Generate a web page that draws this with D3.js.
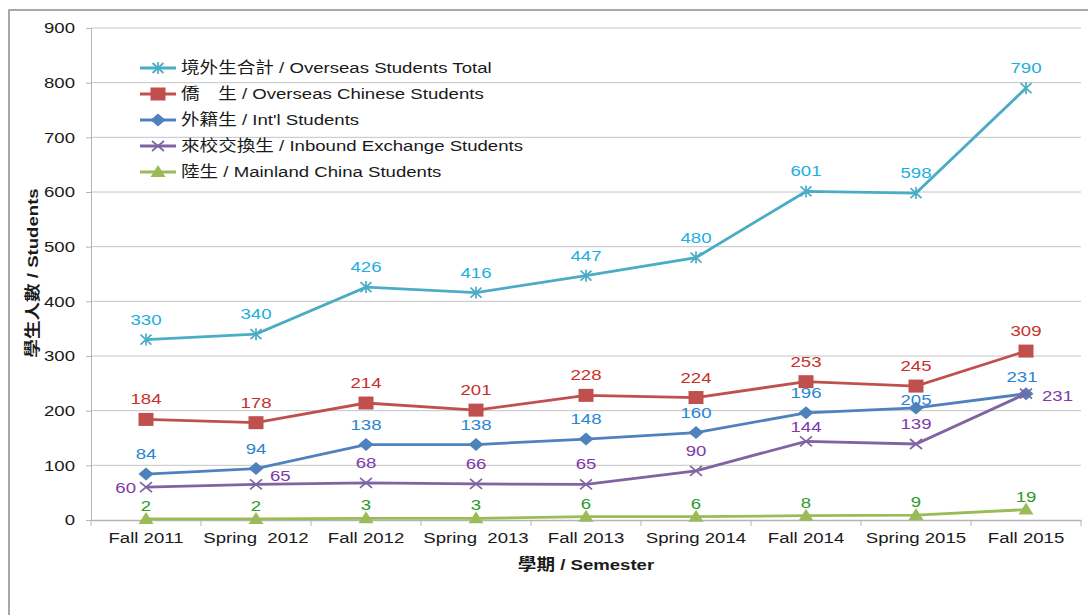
<!DOCTYPE html>
<html>
<head>
<meta charset="UTF-8">
<title>overseas students</title>
<style>
  body { margin: 0; background: #fff; }
  text { font-family: "Liberation Sans", Arial, "Noto Sans CJK TC", sans-serif; white-space: pre; }
</style>
</head>
<body>
<script src="https://cdn.jsdelivr.net/npm/d3@7"></script>
<script type="text/javascript">
// data
var semesters = ["Fall 2011", "Spring  2012", "Fall 2012", "Spring  2013", "Fall 2013",
                 "Spring 2014", "Fall 2014", "Spring 2015", "Fall 2015"];
var totalStudents    = [330, 340, 426, 416, 447, 480, 601, 598, 790];
var overseasChinese  = [184, 178, 214, 201, 228, 224, 253, 245, 309];
var intlStudents     = [84, 94, 138, 138, 148, 160, 196, 205, 231];
var exchangeStudents = [60, 65, 68, 66, 65, 90, 144, 139, 231];
var mainlandStudents = [2, 2, 3, 3, 6, 6, 8, 9, 19];
var yTicks = [0, 100, 200, 300, 400, 500, 600, 700, 800, 900];

var series = [
    {name: "境外生合計 / Overseas Students Total", values: totalStudents,
     line: "#4bacc6", label: "#1eaee0", marker: "asterisk"},
    {name: "僑　生 / Overseas Chinese Students", values: overseasChinese,
     line: "#c0504d", label: "#c8302c", marker: "square"},
    {name: "外籍生 / Int'l Students", values: intlStudents,
     line: "#4f81bd", label: "#2a85d0", marker: "diamond"},
    {name: "來校交換生 / Inbound Exchange Students", values: exchangeStudents,
     line: "#8064a2", label: "#7d3aa8", marker: "cross"},
    {name: "陸生 / Mainland China Students", values: mainlandStudents,
     line: "#9bbb59", label: "#2b9a2b", marker: "triangle"}
];

var width = 1088, height = 615,
    plotLeft = 91, plotRight = 1081, plotTop = 28, plotBottom = 520,
    stretch = 1.2;

var x = d3.scaleBand().domain(d3.range(semesters.length)).range([plotLeft, plotRight]).padding(0),
    y = d3.scaleLinear().domain([0, 900]).range([plotBottom, plotTop]);

var svg = d3.select("body").append("svg")
    .attr("width", width)
    .attr("height", height);

// outer frame
svg.append("rect")
    .attr("x", 9).attr("y", 10)
    .attr("width", 1090).attr("height", 620)
    .attr("fill", "none")
    .attr("stroke", "#8c8c8c")
    .attr("stroke-width", 1.5);

// horizontally stretched text, like the original picture
function stext(g, px, py, str){
    return g.append("text")
        .attr("transform", "translate(" + px + "," + py + ") scale(" + stretch + ",1)")
        .text(str);
}

// gridlines
svg.append("g").selectAll("line")
    .data(yTicks.slice(1))
  .enter().append("line")
    .attr("x1", plotLeft).attr("x2", plotRight)
    .attr("y1", function(d){ return y(d); })
    .attr("y2", function(d){ return y(d); })
    .attr("stroke", "#c4c4c4")
    .attr("stroke-width", 1);

// y axis
var yAxis = d3.axisLeft(y).tickValues(yTicks).tickSize(5).tickSizeOuter(0);
var gy = svg.append("g")
    .attr("transform", "translate(" + plotLeft + ",0)")
    .call(yAxis);
gy.select(".domain").attr("stroke", "#b4b4b4");
gy.selectAll(".tick line").attr("stroke", "#b4b4b4");
gy.selectAll(".tick text")
    .attr("x", -16 / stretch)
    .attr("transform", "scale(" + stretch + ",1)")
    .attr("font-size", 15.5)
    .attr("fill", "#1a1a1a");

// x axis, ticks sit on the band edges
var xAxis = d3.axisBottom(x).tickSize(0).tickSizeOuter(0)
    .tickFormat(function(i){ return semesters[i]; });
var gx = svg.append("g")
    .attr("transform", "translate(0," + plotBottom + ")")
    .call(xAxis);
gx.select(".domain").attr("stroke", "#b4b4b4").attr("stroke-width", 1.5);
gx.selectAll(".tick text")
    .attr("y", 12)
    .attr("font-size", 15.5)
    .attr("fill", "#1a1a1a")
    .attr("transform", "scale(" + stretch + ",1)");
gx.append("g").selectAll("line")
    .data(d3.range(semesters.length + 1))
  .enter().append("line")
    .attr("x1", function(i){ return plotLeft + i * x.step(); })
    .attr("x2", function(i){ return plotLeft + i * x.step(); })
    .attr("y1", 0).attr("y2", 6)
    .attr("stroke", "#b4b4b4");

// axis titles
stext(svg, (plotLeft + plotRight) / 2, 570, "學期 / Semester")
    .attr("text-anchor", "middle")
    .attr("font-size", 15.5)
    .attr("font-weight", "bold")
    .attr("fill", "#1a1a1a");

svg.append("text")
    .attr("transform", "translate(38,273) rotate(-90) scale(" + stretch + ",1)")
    .attr("text-anchor", "middle")
    .attr("font-size", 15.5)
    .attr("font-weight", "bold")
    .attr("fill", "#1a1a1a")
    .text("學生人數 / Students");

// markers
function drawMarker(g, type, color){
    if (type === "asterisk") {
        g.append("path").attr("d", "M-5.5,-5L5.5,5M-5.5,5L5.5,-5M0,-6L0,6")
            .attr("stroke", color).attr("stroke-width", 1.7).attr("fill", "none");
    } else if (type === "cross") {
        g.append("path").attr("d", "M-6,-5L6,5M-6,5L6,-5")
            .attr("stroke", color).attr("stroke-width", 1.7).attr("fill", "none");
    } else if (type === "square") {
        g.append("rect").attr("x", -7.5).attr("y", -6.5).attr("width", 15).attr("height", 13)
            .attr("fill", color);
    } else if (type === "diamond") {
        g.append("path").attr("d", "M0,-6.5L7.5,0L0,6.5L-7.5,0Z").attr("fill", color);
    } else if (type === "triangle") {
        g.append("path").attr("d", "M0,-7L7.5,5L-7.5,5Z").attr("fill", color);
    }
}

var line = d3.line()
    .x(function(d, i){ return x(i) + x.bandwidth() / 2; })
    .y(function(d){ return y(d); });

// label placement tweaks (series index, point index)
function labelPos(s, i, px, py){
    if (s === 3 && i === 0) return {x: px - 10, y: py + 1, anchor: "end"};
    if (s === 3 && i === 1) return {x: px + 14, y: py - 8, anchor: "start"};
    if (s === 3 && i === 8) return {x: px + 16, y: py + 2, anchor: "start"};
    if (s === 3 && i === 6) return {x: px, y: py - 14, anchor: "middle"};
    if (s === 2 && i === 7) return {x: px, y: py - 8, anchor: "middle"};
    if (s === 2 && i === 8) return {x: px - 4, y: py - 17, anchor: "middle"};
    if (s === 4) return {x: px, y: py - 13, anchor: "middle"};
    return {x: px, y: py - 20, anchor: "middle"};
}

series.forEach(function(sr, s){
    var g = svg.append("g");
    g.append("path")
        .datum(sr.values)
        .attr("d", line)
        .attr("fill", "none")
        .attr("stroke", sr.line)
        .attr("stroke-width", 2.8);

    g.selectAll("g.mk")
        .data(sr.values)
      .enter().append("g")
        .attr("class", "mk")
        .attr("transform", function(d, i){
            return "translate(" + (x(i) + x.bandwidth() / 2) + "," + y(d) + ")";
        })
        .each(function(){ drawMarker(d3.select(this), sr.marker, sr.line); });
});

// data labels on top
series.forEach(function(sr, s){
    var g = svg.append("g");
    sr.values.forEach(function(d, i){
        var p = labelPos(s, i, x(i) + x.bandwidth() / 2, y(d));
        stext(g, p.x, p.y, d)
            .attr("text-anchor", p.anchor)
            .attr("dominant-baseline", "central")
            .attr("font-size", 15.5)
            .attr("fill", sr.label);
    });
});

// legend
var legend = svg.append("g");
series.forEach(function(sr, s){
    var ly = 68 + s * 26;
    legend.append("line")
        .attr("x1", 140).attr("x2", 176)
        .attr("y1", ly).attr("y2", ly)
        .attr("stroke", sr.line)
        .attr("stroke-width", 2.8);
    var mg = legend.append("g").attr("transform", "translate(158," + ly + ")");
    drawMarker(mg, sr.marker, sr.line);
    stext(legend, 181, ly, sr.name)
        .attr("dominant-baseline", "central")
        .attr("font-size", 15.5)
        .attr("fill", "#1a1a1a");
});
</script>
</body>
</html>
